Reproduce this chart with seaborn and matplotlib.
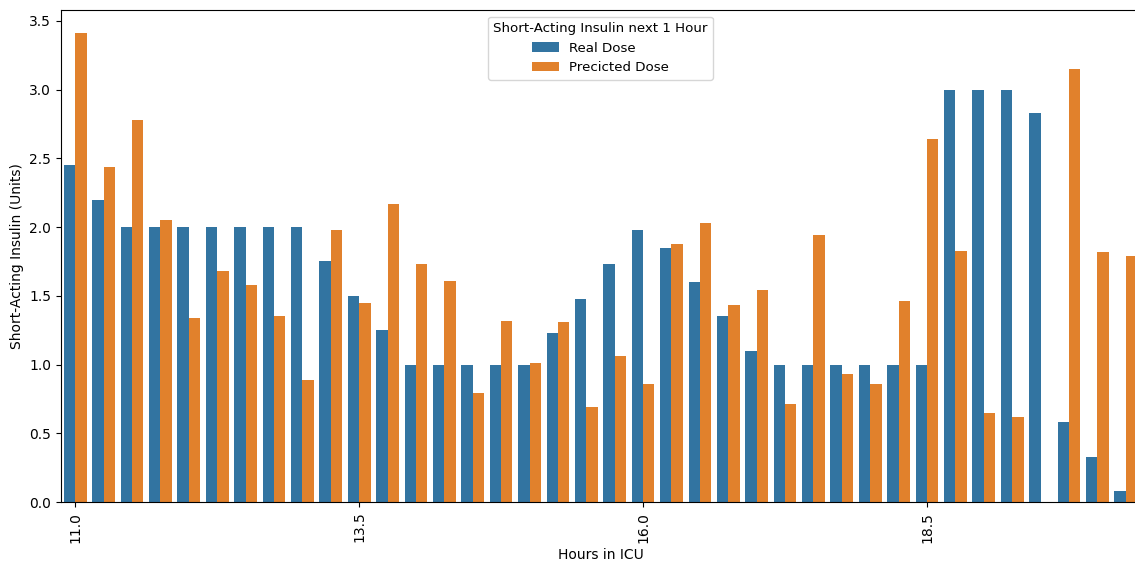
import numpy as np
import pandas as pd
import matplotlib
matplotlib.use("Agg")
import matplotlib.pyplot as plt
import seaborn as sns

hours = [11.0 + 0.25 * i for i in range(38)]
real_dose = [2.45, 2.2, 2.0, 2.0, 2.0, 2.0, 2.0, 2.0, 2.0, 1.75,
             1.5, 1.25, 1.0, 1.0, 1.0, 1.0, 1.0, 1.23, 1.48, 1.73,
             1.98, 1.85, 1.6, 1.35, 1.1, 1.0, 1.0, 1.0, 1.0, 1.0,
             1.0, 3.0, 3.0, 3.0, 2.83, 0.58, 0.33, 0.08]
pred_dose = [3.41, 2.44, 2.78, 2.05, 1.34, 1.68, 1.58, 1.35, 0.89, 1.98,
             1.45, 2.17, 1.73, 1.61, 0.79, 1.32, 1.01, 1.31, 0.69, 1.06,
             0.86, 1.88, 2.03, 1.43, 1.54, 0.71, 1.94, 0.93, 0.86, 1.46,
             2.64, 1.83, 0.65, 0.62, np.nan, 3.15, 1.82, 1.79]
series_names = ["Real Dose", "Precicted Dose"]
tick_hours = [11.0, 13.5, 16.0, 18.5]

hour_labels = [str(h) for h in hours]
df = pd.DataFrame({
    "Hours in ICU": hour_labels * 2,
    "Dose": real_dose + pred_dose,
    "Short-Acting Insulin next 1 Hour": [series_names[0]] * len(hours) + [series_names[1]] * len(hours),
})

fig = plt.figure(figsize=(11.35, 5.63), dpi=100)
ax = fig.add_axes([61 / 1135, 61 / 563, (1140 - 61) / 1135, 492 / 563])
sns.barplot(data=df, x="Hours in ICU", y="Dose", hue="Short-Acting Insulin next 1 Hour",
            order=hour_labels, hue_order=series_names, ax=ax)

ticks = [hours.index(t) for t in tick_hours]
ax.set_xticks(ticks)
ax.set_xticklabels([str(t) for t in tick_hours], rotation=90)
ax.set_xlim(-0.5, len(hours) - 0.5)
ax.set_ylim(0, 3.58)
ax.set_yticks(np.arange(0, 3.51, 0.5))
ax.set_ylabel("Short-Acting Insulin (Units)")
ax.set_xlabel("Hours in ICU")
leg = ax.legend(title="Short-Acting Insulin next 1 Hour", loc="upper center",
                fontsize=9.6, title_fontsize=9.6)

fig.savefig("out.png", dpi=100)
